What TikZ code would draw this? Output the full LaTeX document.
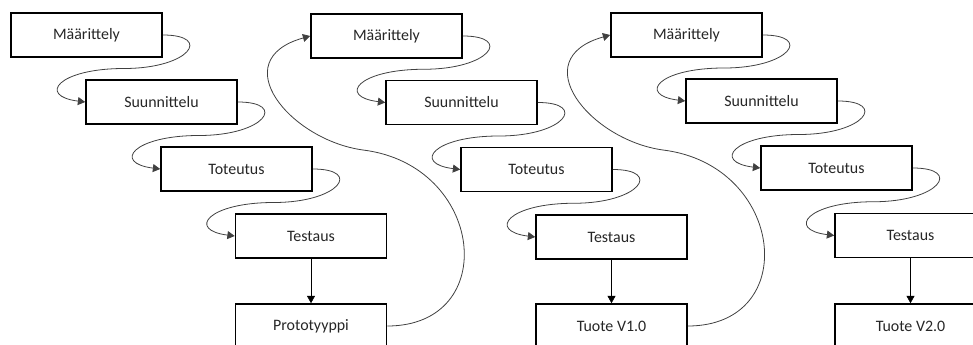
\documentclass[tikz,border=0pt]{standalone}
\usepackage{fontspec}
\setmainfont{Carlito}
\usepackage{tikz}
\usetikzlibrary{calc}
\usetikzlibrary{arrows.meta%
}
\definecolor{textgray}{HTML}{262626}
\definecolor{linegray}{HTML}{404040}

\begin{document}
\begin{tikzpicture}[x=0.75bp, y=-0.75bp, font=\fontsize{12}{14}\selectfont,
  phase/.style={draw, line width=1.2pt, minimum width=113.25bp, minimum height=33bp, inner sep=0pt, text=textgray},
  tip/.style={-{Triangle[length=5.5pt, width=6pt]}},
  wave/.style={tip, linegray, line width=0.6pt, to path={.. controls +(50,0) and +(66,0) .. ($(\tikztostart)!.5!(\tikztotarget)$) .. controls +(-66,0) and +(-48,-6) .. (\tikztotarget) \tikztonodes}},
  back/.style={tip, linegray, line width=0.6pt}]
\useasboundingbox (0,0) rectangle (973,345);

% prototyyppi
\node[phase] (m1) at (86.5, 35) {Määrittely};
\node[phase] (s1) at (161.5, 102) {Suunnittelu};
\node[phase] (t1) at (236.5, 169) {Toteutus};
\node[phase] (e1) at (311, 236) {Testaus};
\node[phase] (p1) at (311, 326) {Prototyyppi};
% V1.0
\node[phase] (m2) at (386.5, 36) {Määrittely};
\node[phase] (s2) at (461.5, 102.5) {Suunnittelu};
\node[phase] (t2) at (536.5, 169.5) {Toteutus};
\node[phase] (e2) at (611.5, 237) {Testaus};
\node[phase] (p2) at (611.5, 326) {Tuote V1.0};
% V2.0
\node[phase] (m3) at (686.5, 35) {Määrittely};
\node[phase] (s3) at (761.5, 101) {Suunnittelu};
\node[phase] (t3) at (836.5, 168) {Toteutus};
\node[phase] (e3) at (910.5, 235.5) {Testaus};
\node[phase] (p3) at (910.5, 326) {Tuote V2.0};

\draw[wave] (m1.east) to (s1.west);
\draw[wave] (s1.east) to (t1.west);
\draw[wave] (t1.east) to (e1.west);
\draw[wave] (m2.east) to (s2.west);
\draw[wave] (s2.east) to (t2.west);
\draw[wave] (t2.east) to (e2.west);
\draw[wave] (m3.east) to (s3.west);
\draw[wave] (s3.east) to (t3.west);
\draw[wave] (t3.east) to (e3.west);

\draw[tip] (e1) -- (p1);
\draw[tip] (e2) -- (p2);
\draw[tip] (e3) -- (p3);

\coordinate (turn1) at (363, 150);
\coordinate (turn2) at (663, 150);
\draw[back] (p1.east) .. controls +(114,0) and +(122,15) .. (turn1) .. controls +(-73,-10) and +(-86,24) .. (m2.west); % uusi kierros
\draw[back] (p2.east) .. controls +(114,0) and +(122,15) .. (turn2) .. controls +(-73,-10) and +(-86,24) .. (m3.west);
\end{tikzpicture}
\end{document}
